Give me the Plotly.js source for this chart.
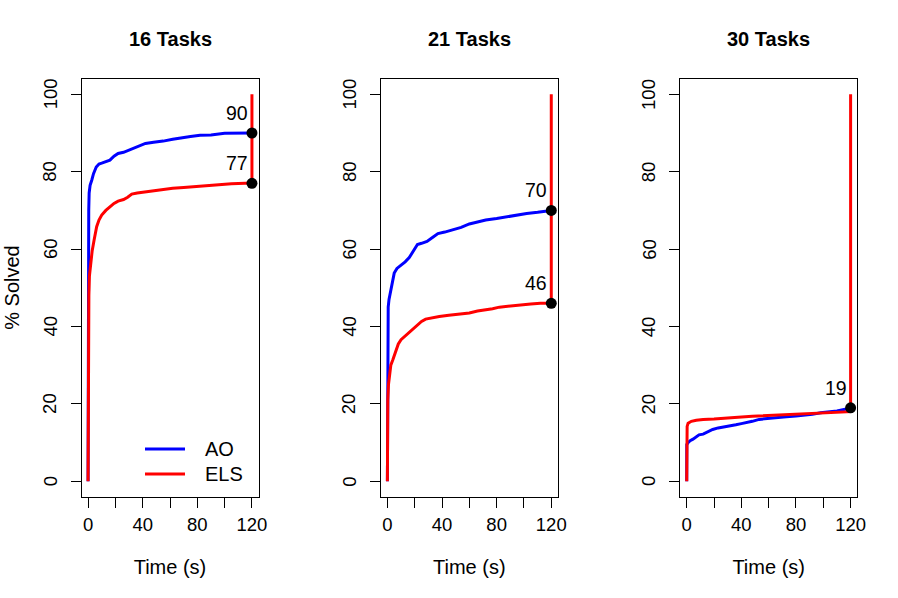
<!DOCTYPE html>
<html>
<head>
<meta charset="utf-8">
<script src="https://cdn.plot.ly/plotly-3.0.1.min.js"></script>
<style>
  html, body { margin: 0; padding: 0; background: #ffffff; }
  #chart { width: 898px; height: 598px; }
</style>
</head>
<body>
<div id="chart"></div>
<script>
// Cumulative % of instances solved over time, three problem sizes.
const panelTitles = ['16 Tasks', '21 Tasks', '30 Tasks'];
const seriesNames = ['AO', 'ELS'];
const seriesColors = ['#0000ff', '#ff0000'];
const xTickVals = [0, 20, 40, 60, 80, 100, 120];
const xTickText = ['0', '', '40', '', '80', '', '120'];
const yTickVals = [0, 20, 40, 60, 80, 100];

// 16 tasks
const ao16T  = [0, 0.1, 0.25, 0.5, 0.8, 1.5, 2.7, 4, 6, 8, 10, 13, 16, 19, 22, 26, 30, 34, 38, 42, 48, 55, 62, 68, 75, 82, 90, 100, 110, 120];
const ao16V  = [0, 45, 62, 70, 74.5, 76.5, 77.8, 79.5, 81.2, 82, 82.2, 82.5, 83, 84, 84.7, 85, 85.6, 86.2, 86.8, 87.3, 87.6, 87.9, 88.4, 88.8, 89.1, 89.4, 89.5, 89.9, 90, 90];
const els16T = [0, 0.1, 0.3, 0.6, 1, 2, 3, 4.5, 6.3, 8, 10, 13, 16, 19, 22, 26, 29, 32, 36, 42, 48, 55, 62, 70, 78, 88, 95, 105, 115, 120, 120];
const els16V = [0, 20, 40, 48, 53, 57, 59.5, 62.5, 65.8, 67.5, 68.8, 70, 71, 71.8, 72.4, 72.8, 73.4, 74.2, 74.5, 74.8, 75, 75.4, 75.7, 75.9, 76.1, 76.4, 76.7, 76.9, 77, 77, 100];

// 21 tasks
const ao21T  = [0, 0.05, 0.2, 0.6, 1.2, 2, 3.5, 5, 7, 10, 13, 16, 19, 22, 25, 29, 33, 37, 42, 48, 54, 60, 66, 72, 80, 88, 95, 102, 110, 120];
const ao21V  = [0, 20, 40, 45, 47, 48.5, 51.5, 53.8, 55, 55.8, 56.7, 57.8, 59.5, 61.2, 61.5, 62, 63, 64, 64.4, 64.9, 65.6, 66.5, 67.1, 67.5, 67.9, 68.4, 68.8, 69.2, 69.5, 70];
const els21T = [0, 0.05, 0.3, 0.8, 1.5, 2.5, 4, 6, 8, 10, 13, 16, 19, 22, 25, 28, 33, 38, 45, 52, 60, 66, 72, 77, 82, 90, 96, 105, 112, 120, 120];
const els21V = [0, 14, 21, 25, 28, 30, 31.4, 33.5, 35.5, 36.6, 37.5, 38.4, 39.3, 40.3, 41.3, 41.9, 42.3, 42.6, 42.9, 43.2, 43.5, 44, 44.3, 44.6, 45, 45.3, 45.6, 45.8, 46, 46, 100];

// 30 tasks
const ao30T  = [0, 0.05, 1, 2.5, 4.6, 7, 9, 12, 15, 19, 23, 27, 31, 36, 40, 43, 48, 53, 60, 67, 73, 80, 86, 92, 98, 104, 110, 116, 120];
const ao30V  = [0, 9.5, 10, 10.5, 10.9, 11.6, 12, 12.2, 12.8, 13.4, 13.8, 14, 14.3, 14.6, 14.9, 15.1, 15.5, 16, 16.3, 16.5, 16.7, 16.9, 17.1, 17.3, 17.7, 17.9, 18.2, 18.6, 19];
const els30T = [0, 0.05, 0.3, 1, 3.4, 7, 12, 20, 26, 35, 48, 60, 72, 85, 97, 110, 120, 120];
const els30V = [0, 12, 14.2, 15, 15.5, 15.8, 16, 16.1, 16.3, 16.5, 16.8, 17, 17.3, 17.5, 17.7, 17.9, 18, 100];

// which series get a marked, labelled end point in each panel
const markedSeries = [['AO', 'ELS'], ['AO', 'ELS'], ['AO']];

const panels = [
  { AO: [ao16T, ao16V], ELS: [els16T, els16V] },
  { AO: [ao21T, ao21V], ELS: [els21T, els21V] },
  { AO: [ao30T, ao30V], ELS: [els30T, els30V] }
];

const FONT = 'Liberation Sans, Arial, Helvetica, sans-serif';
const W = 898, H = 598;
const panelW = W / 3;
const boxLeft = 81.5, boxW = 177;
const boxTop = 78.8, boxBottom = 496.8;
const yLabelX = 50;     // centre of the rotated y tick labels, px from panel edge
const yTitleX = 12;     // centre of the rotated y axis title

const traces = [];
const annotations = [];
const shapes = [];

const layout = {
  width: W, height: H,
  margin: { l: 0, r: 0, t: 0, b: 0 },
  paper_bgcolor: '#ffffff', plot_bgcolor: '#ffffff',
  font: { family: FONT, size: 18, color: '#000000' },
  showlegend: false,
  shapes: shapes,
  annotations: annotations
};

// legend key inside the first panel, bottom right
seriesNames.forEach((name, k) => {
  const yPx = 449 + 25 * k;
  shapes.push({
    type: 'line', xref: 'paper', yref: 'paper',
    x0: 145 / W, x1: 185 / W, y0: 1 - yPx / H, y1: 1 - yPx / H,
    line: { color: seriesColors[k], width: 3 }
  });
  annotations.push({
    xref: 'paper', yref: 'paper', x: 203 / W, y: 1 - yPx / H,
    text: name, showarrow: false, xanchor: 'left', yanchor: 'middle',
    font: { family: FONT, size: 20, color: '#000000' }
  });
});

panels.forEach((p, i) => {
  const sfx = i === 0 ? '' : String(i + 1);
  const xa = 'x' + sfx, ya = 'y' + sfx;
  const left = (boxLeft + i * panelW) / W;
  const right = (boxLeft + boxW + i * panelW) / W;
  const yDomain = [1 - boxBottom / H, 1 - boxTop / H];

  layout['xaxis' + sfx] = {
    domain: [left, right], anchor: ya,
    range: [-4.8, 124.8], fixedrange: true,
    tickmode: 'array', tickvals: xTickVals, ticktext: xTickText,
    ticks: 'outside', ticklen: 10, tickwidth: 1, tickcolor: '#000000',
    ticklabelstandoff: 1,
    showline: true, mirror: true, linecolor: '#000000', linewidth: 1,
    showgrid: false, zeroline: false,
    tickfont: { family: FONT, size: 18.5, color: '#000000' },
    title: { text: 'Time (s)', standoff: 25, font: { family: FONT, size: 20, color: '#000000' } }
  };
  layout['yaxis' + sfx] = {
    domain: yDomain, anchor: xa,
    range: [-4, 104], fixedrange: true,
    tickmode: 'array', tickvals: yTickVals, showticklabels: false,
    ticks: 'outside', ticklen: 10, tickwidth: 1, tickcolor: '#000000',
    showline: true, mirror: true, linecolor: '#000000', linewidth: 1,
    showgrid: false, zeroline: false
  };

  // y tick labels, written bottom-to-top beside each tick
  yTickVals.forEach(v => {
    annotations.push({
      xref: 'paper', yref: ya, x: (yLabelX + i * panelW) / W, y: v,
      text: String(v), textangle: -90, showarrow: false,
      xanchor: 'center', yanchor: 'middle',
      font: { family: FONT, size: 18.5, color: '#000000' }
    });
  });

  seriesNames.forEach((name, k) => {
    const [t, v] = p[name];
    traces.push({
      type: 'scatter', mode: 'lines', x: t, y: v,
      xaxis: xa, yaxis: ya, name: name,
      line: { color: seriesColors[k], width: 3, shape: 'linear' },
      hoverinfo: 'skip'
    });
  });

  // end points: value reached at the time limit (before the timeout jump)
  const ex = [], ey = [];
  markedSeries[i].forEach(name => {
    const [t, v] = p[name];
    const idx = t.indexOf(t[t.length - 1]);
    ex.push(t[idx]); ey.push(v[idx]);
    annotations.push({
      xref: xa, yref: ya, x: t[idx], y: v[idx],
      text: String(Math.round(v[idx])),
      showarrow: false, xanchor: 'right', yanchor: 'middle',
      xshift: -2, yshift: 20,
      font: { family: FONT, size: 19.5, color: '#000000' }
    });
  });
  traces.push({
    type: 'scatter', mode: 'markers', x: ex, y: ey,
    xaxis: xa, yaxis: ya,
    marker: { color: '#000000', size: 11, line: { width: 0 } },
    hoverinfo: 'skip'
  });

  annotations.push({
    xref: 'paper', yref: 'paper',
    x: (left + right) / 2, y: 1 - 39 / H,
    text: panelTitles[i], showarrow: false,
    xanchor: 'center', yanchor: 'middle',
    font: { family: FONT, size: 20, color: '#000000', weight: 'bold' }
  });
});

// y axis title, left of the first panel
annotations.push({
  xref: 'paper', yref: 'paper',
  x: yTitleX / W, y: 1 - (boxTop + boxBottom) / 2 / H,
  text: '% Solved', textangle: -90, showarrow: false,
  xanchor: 'center', yanchor: 'middle',
  font: { family: FONT, size: 20, color: '#000000' }
});

Plotly.newPlot('chart', traces, layout, { staticPlot: true, displayModeBar: false });
</script>
</body>
</html>
